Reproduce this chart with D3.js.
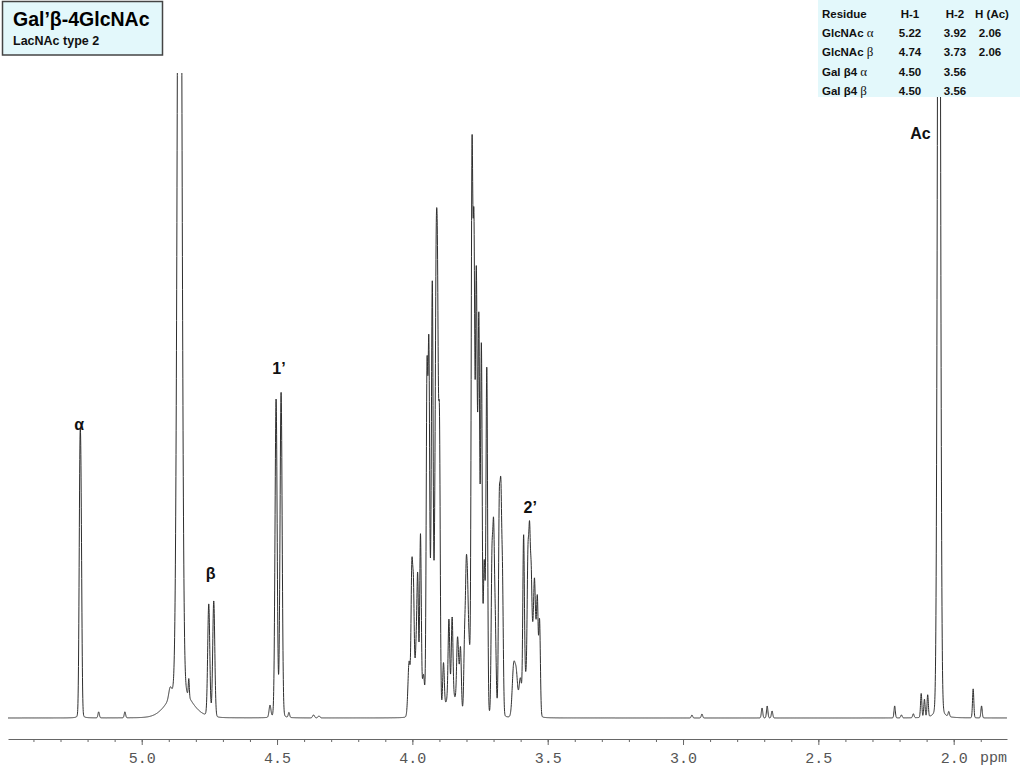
<!DOCTYPE html>
<html><head><meta charset="utf-8">
<script src="https://cdn.jsdelivr.net/npm/d3@7"></script>
<style>body{margin:0;background:#fff;overflow:hidden}</style>
</head><body><svg id="chart" width="1024" height="768"></svg>
<script>
// ---------------- data ----------------
const ppmDomain = [5.494, 1.803];
const intensityDomain = [0, 645];
const majorTicks = [5.0, 4.5, 4.0, 3.5, 3.0, 2.5, 2.0];
const axisUnit = "ppm";

// peak list: position (ppm), height (a.u.), half width (ppm)
const peakPpm = [
  5.2285, 5.2240, 5.159, 5.062,
  4.860, 4.860, 4.895, 4.826,
  4.7523, 4.7338,
  4.526, 4.5035, 4.485, 4.456, 4.365, 4.345,
  4.012, 4.002, 3.996, 3.986, 3.980, 3.970, 3.959,
  3.946, 3.939, 3.9305, 3.926, 3.9168, 3.912, 3.907, 3.900,
  3.855, 3.885, 3.865, 3.853, 3.834, 3.8297, 3.822, 3.807, 3.801, 3.796, 3.790,
  3.780, 3.776, 3.772, 3.764, 3.7585, 3.754, 3.745, 3.7345, 3.725,
  3.706, 3.700, 3.694, 3.679, 3.673, 3.667,
  3.626, 3.616, 3.601,
  3.589, 3.5804, 3.573, 3.567, 3.561, 3.5545, 3.549, 3.544, 3.538, 3.530,
  2.967, 2.930, 2.708, 2.689, 2.671,
  2.218, 2.193, 2.149, 2.120, 2.108, 2.096,
  2.0543, 2.018, 1.928, 1.897
];
const peakHeight = [
  212, 172, 6, 6,
  1200, 24, 10, 18,
  112, 116,
  12, 318, 325, 5, 3, 2,
  55, 137, 116, 65, 117, 180, 40,
  330, 350, 110, 380, 140, 342, 356, 280,
  22, 45, 78, 78, 48, 35, 60, 70, 123, 95, 60,
  478, 150, 390, 400, 120, 340, 365, 150, 345,
  145, 160, 90, 195, 195, 125,
  48, 41, 38,
  175, 35, 140, 160, 120, 65, 100, 60, 105, 95,
  3, 4, 10, 12, 7,
  12, 3, 4, 24, 18, 22,
  1200, 5, 29, 12
];
const peakHwhm = [
  0.0035, 0.0035, 0.003, 0.003,
  0.0086, 0.052, 0.006, 0.0022,
  0.0045, 0.0045,
  0.004, 0.0046, 0.0046, 0.003, 0.004, 0.004,
  0.005, 0.0035, 0.0035, 0.005, 0.0035, 0.0035, 0.005,
  0.0035, 0.0035, 0.004, 0.0035, 0.004, 0.0035, 0.0035, 0.0035,
  0.025, 0.0035, 0.0035, 0.0035, 0.0035, 0.004, 0.0035, 0.0035, 0.0035, 0.0035, 0.004,
  0.0035, 0.004, 0.0035, 0.0035, 0.004, 0.0035, 0.0035, 0.004, 0.0035,
  0.0035, 0.0035, 0.004, 0.0035, 0.0035, 0.0035,
  0.006, 0.006, 0.006,
  0.0035, 0.005, 0.0035, 0.0035, 0.0035, 0.004, 0.0035, 0.004, 0.0035, 0.0035,
  0.003, 0.003, 0.003, 0.003, 0.003,
  0.0028, 0.003, 0.003, 0.0028, 0.0028, 0.0028,
  0.0059, 0.003, 0.0028, 0.0028
];

const labelText = ["\u03b1", "\u03b2", "1\u2019", "2\u2019", "Ac"];
const labelPpm = [5.231, 4.745, 4.493, 3.5645, 2.1227];
const labelHeight = [288, 139, 344, 205, 579];

const titleMain = "Gal\u2019\u03b2-4GlcNAc";
const titleSub = "LacNAc type 2";

const tableHeader = ["Residue", "H-1", "H-2", "H (Ac)"];
const residueName = ["GlcNAc", "GlcNAc", "Gal \u03b24", "Gal \u03b24"];
const residueAnomer = ["\u03b1", "\u03b2", "\u03b1", "\u03b2"];
const shiftH1 = ["5.22", "4.74", "4.50", "4.50"];
const shiftH2 = ["3.92", "3.73", "3.56", "3.56"];
const shiftHAc = ["2.06", "2.06", "", ""];

// ---------------- drawing ----------------
const svg = d3.select("#chart");
const x = d3.scaleLinear().domain(ppmDomain).range([8, 1007]);
const y = d3.scaleLinear().domain(intensityDomain).range([718, 73]);

const eta = 0.05;
function lineShape(d, g) { const r = d / g; return (1 - eta) * Math.pow(2, -r * r) + eta / (1 + r * r); }
const step = 0.0004;
const grid = d3.range(ppmDomain[0], ppmDomain[1] - step / 2, -step);
const spectrum = grid.map(p => {
  let s = 0;
  for (let i = 0; i < peakPpm.length; i++) s += peakHeight[i] * lineShape(p - peakPpm[i], peakHwhm[i]);
  return [p, s];
});

svg.append("defs").append("clipPath").attr("id", "plotClip")
  .append("rect").attr("x", x(ppmDomain[0])).attr("y", y(intensityDomain[1]))
  .attr("width", x(ppmDomain[1]) - x(ppmDomain[0])).attr("height", 768 - y(intensityDomain[1]));

svg.append("path").datum(spectrum)
  .attr("clip-path", "url(#plotClip)")
  .attr("fill", "none").attr("stroke", "#2e2e2e").attr("stroke-width", 1)
  .attr("stroke-linejoin", "round")
  .attr("d", d3.line().x(d => x(d[0])).y(d => y(d[1])));

// axis
const axisY = 739;
const minorTicks = d3.range(54, 18, -1).map(v => v / 10).filter(v => v <= ppmDomain[0] && v >= ppmDomain[1]);
const gMinor = svg.append("g").attr("transform", `translate(0,${axisY})`)
  .call(d3.axisBottom(x).tickValues(minorTicks).tickSize(3).tickSizeOuter(0).tickFormat(""));
const gMajor = svg.append("g").attr("transform", `translate(0,${axisY})`)
  .call(d3.axisBottom(x).tickValues(majorTicks).tickSize(6).tickSizeOuter(0).tickPadding(7).tickFormat(d3.format(".1f")));
[gMinor, gMajor].forEach(g => {
  g.selectAll("path,line").attr("stroke", "#666").attr("stroke-width", 1);
});
gMajor.select(".domain").remove();
gMajor.selectAll("text").attr("font-family", "'Liberation Mono', 'DejaVu Sans Mono', monospace")
  .attr("font-size", 15).attr("fill", "#555");
svg.append("text").attr("x", x(ppmDomain[1])).attr("y", 762)
  .attr("text-anchor", "end").attr("font-family", "'Liberation Mono', 'DejaVu Sans Mono', monospace")
  .attr("font-size", 15).attr("fill", "#555").text(axisUnit);

// peak labels
svg.append("g").selectAll("text").data(labelText).join("text")
  .attr("x", (d, i) => x(labelPpm[i])).attr("y", (d, i) => y(labelHeight[i]))
  .attr("text-anchor", "middle")
  .attr("font-family", "'Liberation Sans', Arial, sans-serif").attr("font-weight", "bold")
  .attr("font-size", 16).attr("fill", "#111").text(d => d);

// title box
const tb = svg.append("g");
tb.append("rect").attr("x", 2.5).attr("y", 1.5).attr("width", 160).attr("height", 53.5)
  .attr("fill", "#e3f8fb").attr("stroke", "#444").attr("stroke-width", 1.5);
tb.append("text").attr("x", 13).attr("y", 26).attr("font-family", "'Liberation Sans', Arial, sans-serif")
  .attr("font-weight", "bold").attr("font-size", 19.5).attr("fill", "#000").text(titleMain);
tb.append("text").attr("x", 13).attr("y", 45).attr("font-family", "'Liberation Sans', Arial, sans-serif")
  .attr("font-weight", "bold").attr("font-size", 12.5).attr("fill", "#111").text(titleSub);

// table
const tg = svg.append("g").attr("font-family", "'Liberation Sans', Arial, sans-serif")
  .attr("font-weight", "bold").attr("font-size", 11.5).attr("fill", "#111");
tg.append("rect").attr("x", 818).attr("y", 0).attr("width", 202).attr("height", 97).attr("fill", "#e3f8fb");
const rowY = i => 18 + i * 19.2;
const colX = [822, 910, 955, 992];
tableHeader.forEach((h, j) => {
  tg.append("text").attr("x", colX[j]).attr("y", rowY(0))
    .attr("text-anchor", j === 0 ? "start" : "middle").text(h);
});
residueName.forEach((r, i) => {
  const t = tg.append("text").attr("x", colX[0]).attr("y", rowY(i + 1));
  t.append("tspan").text(r + " ");
  t.append("tspan").attr("font-family", "'Liberation Serif', 'Times New Roman', serif")
    .attr("font-weight", "normal").attr("font-size", 13).text(residueAnomer[i]);
  tg.append("text").attr("x", colX[1]).attr("y", rowY(i + 1)).attr("text-anchor", "middle").text(shiftH1[i]);
  tg.append("text").attr("x", colX[2]).attr("y", rowY(i + 1)).attr("text-anchor", "middle").text(shiftH2[i]);
  tg.append("text").attr("x", 990).attr("y", rowY(i + 1)).attr("text-anchor", "middle").text(shiftHAc[i]);
});
</script>
</body></html>
